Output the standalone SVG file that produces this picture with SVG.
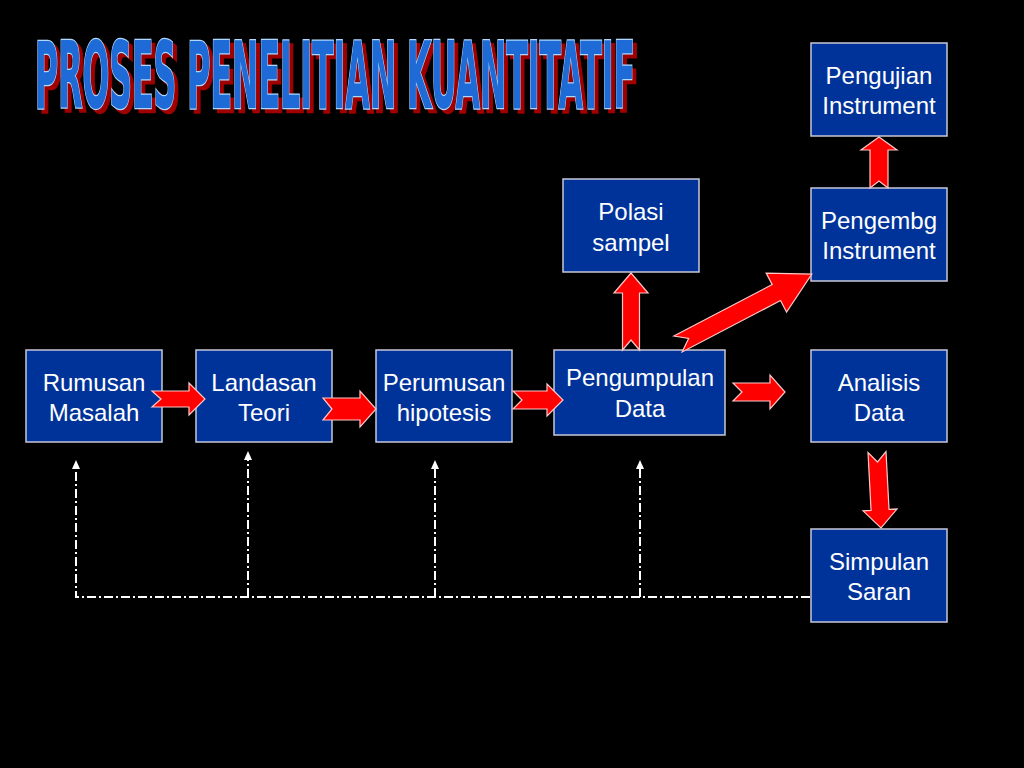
<svg xmlns="http://www.w3.org/2000/svg" width="1024" height="768" viewBox="0 0 1024 768">
<defs>
<style>
.box{fill:#003399;stroke:#c8c8d8;stroke-width:1.5}
.lbl{font-family:"Liberation Sans",Arial,sans-serif;font-size:24px;fill:#ffffff;text-anchor:middle}
.blk{fill:#ff0000;stroke:#ffc8c8;stroke-width:1.2;stroke-linejoin:miter}
.dash{fill:none;stroke:#ffffff;stroke-width:2;stroke-dasharray:9 3 2 3}
.tip{fill:#ffffff}
.title{font-family:"DejaVu Sans Condensed","Liberation Sans Narrow","Liberation Sans",sans-serif;font-weight:bold;font-size:92px}
</style>
</defs>
<rect width="1024" height="768" fill="#000000"/>
<g id="title">
<text class="title" x="39" y="112" textLength="600" lengthAdjust="spacingAndGlyphs" fill="#a00000" stroke="#a00000" stroke-width="2.5">PROSES PENELITIAN KUANTITATIF</text>
<text class="title" x="35" y="108" textLength="600" lengthAdjust="spacingAndGlyphs" fill="#1e6ad6" stroke="#b0d8ff" stroke-width="2.5" paint-order="stroke">PROSES PENELITIAN KUANTITATIF</text>
</g>
<g id="rumusan"><rect class="box" x="26" y="350" width="136" height="92"/><text class="lbl" x="94" y="391">Rumusan</text><text class="lbl" x="94" y="421">Masalah</text></g>
<g id="landasan"><rect class="box" x="196" y="350" width="136" height="92"/><text class="lbl" x="264" y="391">Landasan</text><text class="lbl" x="264" y="421">Teori</text></g>
<g id="perumusan"><rect class="box" x="376" y="350" width="136" height="92"/><text class="lbl" x="444" y="391">Perumusan</text><text class="lbl" x="444" y="421">hipotesis</text></g>
<g id="pengumpulan"><rect class="box" x="554" y="350" width="171" height="85"/><text class="lbl" x="640" y="386">Pengumpulan</text><text class="lbl" x="640" y="417">Data</text></g>
<g id="analisis"><rect class="box" x="811" y="350" width="136" height="92"/><text class="lbl" x="879" y="391">Analisis</text><text class="lbl" x="879" y="421">Data</text></g>
<g id="polasi"><rect class="box" x="563" y="179" width="136" height="93"/><text class="lbl" x="631" y="220">Polasi</text><text class="lbl" x="631" y="251">sampel</text></g>
<g id="pengembg"><rect class="box" x="811" y="188" width="136" height="93"/><text class="lbl" x="879" y="229">Pengembg</text><text class="lbl" x="879" y="259">Instrument</text></g>
<g id="pengujian"><rect class="box" x="811" y="43" width="136" height="93"/><text class="lbl" x="879" y="84">Pengujian</text><text class="lbl" x="879" y="114">Instrument</text></g>
<g id="simpulan"><rect class="box" x="811" y="529" width="136" height="93"/><text class="lbl" x="879" y="570">Simpulan</text><text class="lbl" x="879" y="600">Saran</text></g>
<g id="connectors">
<path class="blk" transform="translate(152,399)" d="M0,-8 L37,-8 L37,-16 L53,0 L37,16 L37,8 L0,8 L9,0 Z"/>
<path class="blk" transform="translate(323,409)" d="M0,-11 L37,-11 L37,-18 L53,0 L37,18 L37,11 L0,11 L9,0 Z"/>
<path class="blk" transform="translate(513,400)" d="M0,-9 L34,-9 L34,-16 L50,0 L34,16 L34,9 L0,9 L9,0 Z"/>
<path class="blk" transform="translate(733,392)" d="M0,-9 L37,-9 L37,-17 L52,0 L37,17 L37,9 L0,9 L9,0 Z"/>
<path class="blk" transform="translate(631,350) rotate(-90)" d="M0,-8.5 L57,-8.5 L57,-17 L77,0 L57,17 L57,8.5 L0,8.5 L10,0 Z"/>
<path class="blk" transform="translate(678,344) rotate(-27.6)" d="M0,-9 L111,-9 L111,-22 L151,0 L111,22 L111,9 L0,9 L12,0 Z"/>
<path class="blk" transform="translate(879,188) rotate(-90)" d="M0,-9 L38,-9 L38,-18 L51,0 L38,18 L38,9 L0,9 L7,0 Z"/>
<path class="blk" transform="translate(877,452) rotate(87)" d="M0,-9 L58,-9 L58,-17 L76,0 L58,17 L58,9 L0,9 L10,0 Z"/>
<path class="dash" d="M810,597 L76,597 L76,468"/>
<path class="dash" d="M248,597 L248,459"/>
<path class="dash" d="M435,597 L435,468"/>
<path class="dash" d="M640,597 L640,468"/>
<path class="tip" d="M76,460 L72,469 L80,469 Z"/>
<path class="tip" d="M248,451 L244,460 L252,460 Z"/>
<path class="tip" d="M435,460 L431,469 L439,469 Z"/>
<path class="tip" d="M640,460 L636,469 L644,469 Z"/>
</g>
</svg>
